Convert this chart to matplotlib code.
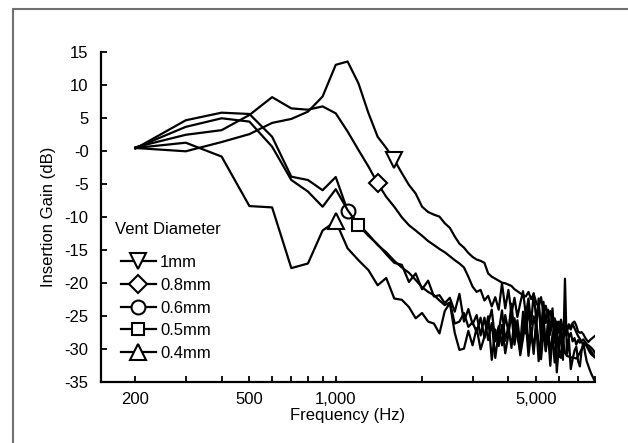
import numpy as np
import matplotlib.pyplot as plt
from matplotlib.patches import Rectangle
from matplotlib.ticker import FixedLocator, FixedFormatter, NullLocator

plt.rcParams["font.family"] = ["Liberation Sans", "DejaVu Sans"]

# frequency grid, 100 Hz steps
freq = list(range(200, 8001, 100))

gain_1mm = [
    0.5, 0.0, 1.4, 2.6, 4.3, 4.9, 6.0, 8.3, 13.1, 13.6,
    10.3, 5.8, 2.2, 0.5, -1.3, -3.3, -5.1, -6.4, -8.4, -9.2,
    -9.6, -9.9, -10.9, -11.6, -12.9, -14.0, -14.6, -15.4, -16.0, -16.4,
    -16.6, -16.9, -18.5, -19.0, -19.3, -19.6, -19.9, -20.0, -20.2, -20.4,
    -20.9, -21.2, -21.5, -21.8, -22.0, -21.3, -22.4, -21.6, -22.9, -23.6,
    -22.1, -24.5, -23.4, -25.1, -24.2, -26.0, -25.3, -26.7, -25.8, -27.2,
    -26.4, -27.9, -26.9, -28.2, -27.5, -28.8, -28.3, -29.3, -28.6, -29.0,
    -28.7, -28.5, -28.9, -29.2, -29.4, -29.6, -29.8, -30.1, -30.5,
]
gain_08mm = [
    0.6, 2.5, 3.2, 5.5, 8.2, 6.5, 6.3, 6.8, 5.75, 3.0,
    0.2, -2.3, -4.85, -6.9, -8.4, -10.0, -11.2, -12.0, -12.8, -13.6,
    -14.2, -14.8, -15.3, -15.9, -16.5, -17.0, -17.6, -19.0, -20.5, -21.3,
    -21.0, -22.6, -21.9, -23.5, -22.1, -24.0, -20.0, -23.8, -21.0, -24.6,
    -22.2, -25.1, -23.0, -21.2, -24.8, -22.3, -26.2, -21.5, -25.4, -23.2,
    -27.0, -22.8, -26.0, -24.0, -27.8, -25.0, -28.5, -25.8, -27.5, -26.4,
    -29.0, -26.8, -27.2, -26.5, -27.0, -26.2, -26.8, -27.4, -28.0, -28.4,
    -28.9, -29.3, -29.0, -29.5, -29.8, -30.0, -30.4, -30.8, -31.0,
]
gain_06mm = [
    0.4, 4.7, 5.85, 5.65, 2.2, -3.85, -4.35, -5.9, -3.9, -9.0,
    -11.0, -12.6, -14.2, -15.3, -16.6, -17.6, -18.4, -19.5, -20.6, -21.3,
    -21.8, -22.6, -23.3, -22.9, -26.1, -25.8, -24.5, -26.6, -25.9, -27.4,
    -25.2, -28.3, -26.1, -24.0, -28.8, -26.5, -29.4, -24.8, -27.3, -23.1,
    -28.0, -25.6, -29.2, -24.3, -27.6, -23.5, -28.5, -25.0, -26.7, -22.3,
    -28.9, -24.6, -30.2, -25.6, -27.1, -23.8, -29.0, -26.0, -31.2, -25.5,
    -27.0, -26.4, -26.8, -26.2, -26.6, -26.0, -25.8, -26.4, -27.3, -27.5,
    -27.4, -27.7, -28.2, -28.6, -28.9, -28.6, -28.4, -28.2, -28.0,
]
gain_05mm = [
    0.5, 3.7, 5.0, 4.5, 0.7, -4.35, -6.1, -8.4, -5.75, -8.9,
    -11.2, -12.8, -14.1, -15.6, -16.9, -17.2, -19.8, -18.5, -20.9, -19.6,
    -22.0, -21.8, -23.0, -22.2, -24.3, -21.6, -25.8, -23.9, -26.2, -24.8,
    -27.9, -25.2, -28.6, -26.0, -31.3, -27.4, -24.1, -28.7, -26.5, -29.8,
    -25.3, -28.1, -30.4, -26.9, -24.2, -29.1, -27.0, -30.7, -25.8, -28.9,
    -31.5, -27.4, -29.6, -26.3, -30.8, -28.0, -32.0, -27.7, -29.9, -31.3,
    -28.5, -30.5, -31.0, -31.1, -31.2, -31.3, -31.3, -31.4, -31.0, -30.5,
    -30.0, -29.5, -29.0, -29.5, -30.0, -30.5, -30.8, -31.0, -31.2,
]
gain_04mm = [
    0.5, 1.3, -0.8, -8.3, -8.5, -17.7, -17.0, -12.0, -10.6, -14.7,
    -16.5, -18.0, -20.3, -19.2, -22.3, -22.5, -23.6, -25.3, -24.5, -25.8,
    -26.1, -27.6, -24.2, -23.0, -27.5, -30.1, -29.9, -27.2, -29.4, -26.8,
    -30.0, -28.1, -25.0, -31.6, -27.0, -29.5, -26.3, -30.6, -27.8, -24.6,
    -29.3, -26.4, -30.9, -28.3, -25.7, -31.0, -27.5, -29.8, -26.2, -31.8,
    -28.6, -25.4, -30.3, -27.3, -32.5, -28.0, -26.1, -33.5, -29.4, -27.8,
    -31.6, -19.3, -30.7, -28.4, -33.0, -31.5, -30.2, -29.6, -31.8, -32.6,
    -30.2, -29.0, -30.5, -31.8, -32.5, -33.2, -33.8, -34.3, -34.8,
]

labels = ["1mm", "0.8mm", "0.6mm", "0.5mm", "0.4mm"]
series = [gain_1mm, gain_08mm, gain_06mm, gain_05mm, gain_04mm]
marker_freq = [1600, 1400, 1100, 1200, 1000]
markers = ["v", "D", "o", "s", "^"]
msizes = [11, 9, 10, 9, 11]

FS = 12

fig = plt.figure(figsize=(6.28, 4.43), dpi=100)
ax = fig.add_axes([0.161, 0.137, 0.786, 0.745])

for y, lab, mk, ms, mf in zip(series, labels, markers, msizes, marker_freq):
    ax.plot(freq, y, color="black", lw=1.6, marker=mk, ms=ms,
            markevery=[freq.index(mf)], mfc="white", mec="black", mew=1.5,
            label=lab)

ax.set_xscale("log")
ax.set_xlim(152, 8000)
ax.set_ylim(-35, 15)

xticks = list(range(200, 1001, 100)) + list(range(2000, 8001, 1000))
shown = {200: "200", 500: "500", 1000: "1,000", 5000: "5,000"}
ax.xaxis.set_major_locator(FixedLocator(xticks))
ax.xaxis.set_major_formatter(FixedFormatter([shown.get(t, "") for t in xticks]))
ax.xaxis.set_minor_locator(NullLocator())

yticks = list(range(-35, 16, 5))
ax.set_yticks(yticks)
ax.set_yticklabels(["-0" if t == 0 else str(t) for t in yticks])

ax.tick_params(direction="in", length=4, width=1.3, labelsize=FS, colors="black")
ax.tick_params(axis="y", pad=9)
ax.tick_params(axis="x", pad=7)
for s in ["top", "right"]:
    ax.spines[s].set_visible(False)
for s in ["left", "bottom"]:
    ax.spines[s].set_linewidth(1.6)

ax.set_xlabel("Frequency (Hz)", fontsize=FS, labelpad=1)
ax.set_ylabel("Insertion Gain (dB)", fontsize=FS, labelpad=6)

ax.text(0.028, 0.4645, "Vent Diameter", transform=ax.transAxes, fontsize=FS,
        ha="left", va="center")
leg = ax.legend(loc="upper left", bbox_to_anchor=(0.040, 0.385),
                frameon=False, fontsize=FS, handlelength=2.1, borderpad=0,
                handletextpad=0.25, labelspacing=0.46, borderaxespad=0)
for h in leg.legend_handles:
    h.set_linewidth(1.6)

# grey frame around the figure
fig.patches.append(Rectangle((13 / 628, -0.2), 1.2, 1.2 - 9 / 443, transform=fig.transFigure,
                             fill=False, edgecolor="#707070", lw=1.5))

fig.savefig("out.png", dpi=100)
